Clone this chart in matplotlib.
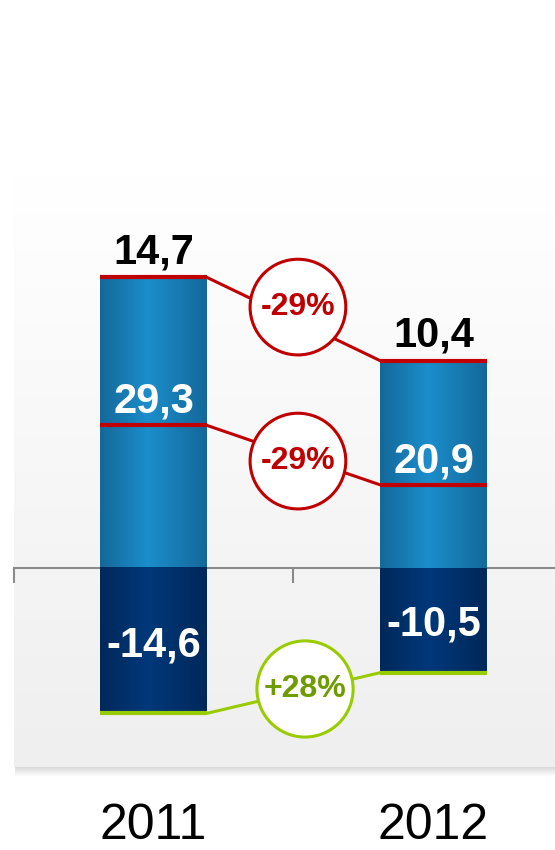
import numpy as np
import matplotlib
matplotlib.use("Agg")
import matplotlib.pyplot as plt
from matplotlib import transforms
from matplotlib.colors import LinearSegmentedColormap
from matplotlib.patches import Rectangle

# data
years = ["2011", "2012"]
revenue = [29.3, 20.9]      # positive part of the bar
costs = [-14.6, -10.5]      # negative part of the bar
net = [14.7, 10.4]          # label on top of the bar
mid_line = [14.4, 8.4]      # red line inside the bar (as drawn)
net_change = "-29%"
revenue_change = "-29%"
costs_change = "+28%"

red = "#C00000"
green = "#99CC00"
green_text = "#6E9B00"
gray = "#8A8A8A"


def fmt(v):
    return f"{v:.1f}".replace(".", ",")


plt.rcParams["font.family"] = ["Liberation Sans", "DejaVu Sans"]

fig = plt.figure(figsize=(5.55, 8.5), dpi=100)
ax = fig.add_axes([13.5 / 555, 83 / 850, 560 / 555, 592 / 850])

# panel background + shadow
bg = LinearSegmentedColormap.from_list("bg", ["#EFEFEF", "#FFFFFF"])
ax.imshow(np.linspace(0, 1, 256).reshape(-1, 1), extent=(0, 1, 0, 1), origin="lower",
          transform=ax.transAxes, aspect="auto", cmap=bg, zorder=0)
for k in range(1, 10):
    fig.patches.append(Rectangle((15 / 555, (83 - k) / 850), 560 / 555, 1 / 850,
                                 transform=fig.transFigure, color="black",
                                 alpha=0.16 * (1 - k / 10), lw=0, zorder=0))

x = np.arange(len(years))
width = 0.38

pos_cmap = LinearSegmentedColormap.from_list(
    "pos", [(0, "#14689A"), (0.45, "#1B8ECB"), (1, "#14689A")])
neg_cmap = LinearSegmentedColormap.from_list(
    "neg", [(0, "#00285A"), (0.45, "#00387A"), (1, "#00285A")])
grad = np.linspace(0, 1, 256).reshape(1, -1)

bars_pos = ax.bar(x, revenue, width=width, color="none", zorder=3)
bars_neg = ax.bar(x, costs, width=width, color="none", zorder=3)
for bars, cmap in ((bars_pos, pos_cmap), (bars_neg, neg_cmap)):
    for p in bars:
        ax.imshow(grad, extent=(p.get_x(), p.get_x() + p.get_width(), 0, p.get_height()),
                  aspect="auto", cmap=cmap, zorder=3)


def link(values, color, text, text_color, pad, offset):
    left = x - width / 2
    right = x + width / 2
    ax.hlines(values, left, right, color=color, lw=3, zorder=4)
    ax.plot([right[0], left[1]], [values[0], values[1]], color=color, lw=2.2, zorder=4,
            solid_capstyle="butt")
    mx = (right[0] + left[1]) / 2
    my = (values[0] + values[1]) / 2
    ax.annotate(text, xy=(mx, my), xytext=offset, textcoords="offset points",
                ha="center", va="center", fontsize=23, weight="bold", color=text_color,
                bbox=dict(boxstyle=f"circle,pad={pad}", fc="white", ec=color, lw=2.2),
                zorder=5)


link(revenue, red, net_change, red, 0.33, (3.2, 8.6))
link(mid_line, red, revenue_change, red, 0.33, (3.2, -4.3))
link(costs, green, costs_change, green_text, 0.21, (8.3, 2.9))

for i in x:
    ax.annotate(fmt(net[i]), xy=(i, revenue[i]), xytext=(0, 10), textcoords="offset points",
                ha="center", va="baseline", fontsize=30, weight="bold", color="black", zorder=6)
    ax.annotate(fmt(revenue[i]), xy=(i, mid_line[i]), xytext=(0, 9), textcoords="offset points",
                ha="center", va="baseline", fontsize=30, weight="bold", color="white", zorder=6)
    ax.text(i, costs[i] / 2, fmt(costs[i]), ha="center", va="center_baseline",
            fontsize=30, weight="bold", color="white", zorder=6)

# year labels under the panel
tr = transforms.blended_transform_factory(ax.transData, fig.transFigure)
for i, y in zip(x, years):
    ax.text(i, 1 - 839 / 850, y, transform=tr, ha="center", va="baseline",
            fontsize=36, color="black")

# zero axis with category boundary ticks
for s in ("top", "left", "right"):
    ax.spines[s].set_visible(False)
ax.spines["bottom"].set_position(("data", 0))
ax.spines["bottom"].set_color(gray)
ax.spines["bottom"].set_linewidth(1.5)
ax.set_xticks(np.arange(len(years) + 1) - 0.5)
ax.tick_params(axis="x", direction="out", length=11, width=1.5, colors=gray, labelbottom=False)
ax.set_yticks([])

ax.set_xlim(-0.5, 1.5)
ax.set_ylim(-20.0, 39.6)

fig.savefig("out.png", dpi=100, facecolor="white")
